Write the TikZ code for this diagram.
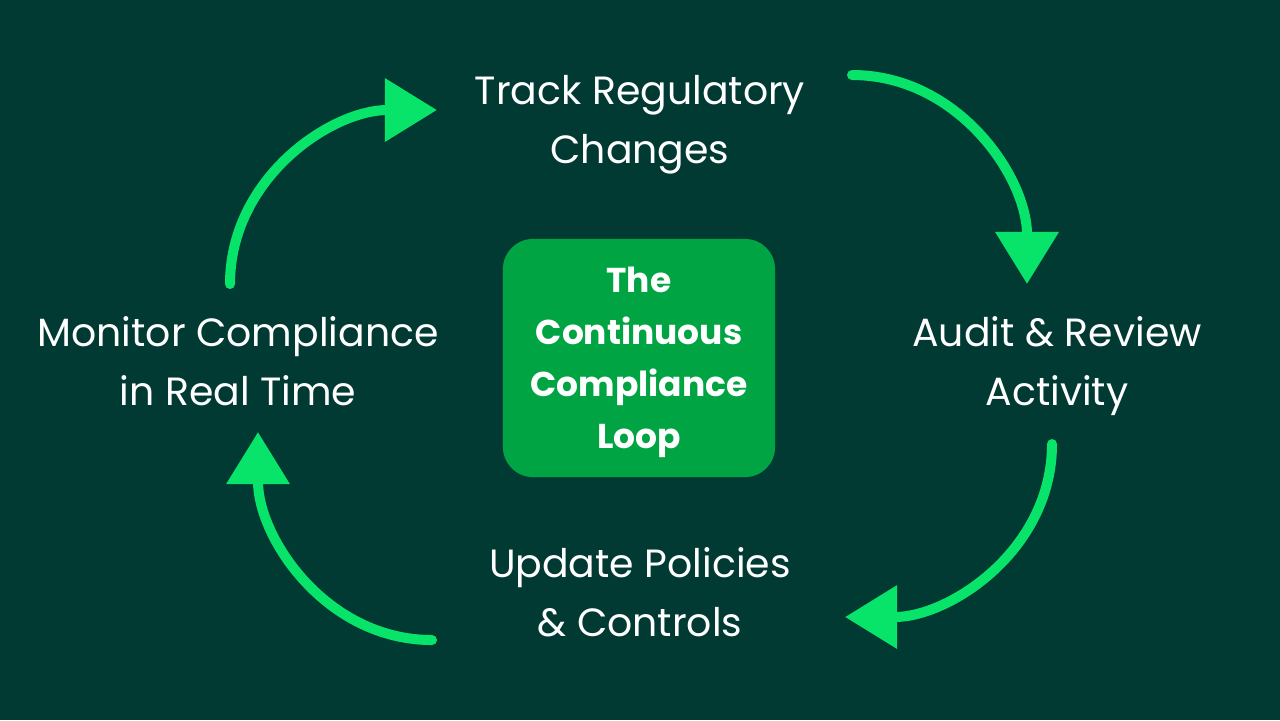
\documentclass[tikz,border=0pt]{standalone}
\usepackage{fontspec}
\setmainfont{Poppins}
\usetikzlibrary{positioning, arrows.meta}

\definecolor{bgteal}{HTML}{003A33}
\definecolor{loopgreen}{HTML}{08E46A}
\definecolor{boxgreen}{HTML}{00A443}

\begin{document}
\begin{tikzpicture}[x=0.01cm, y=-0.01cm,
    stage/.style={text=white, align=center, font=\fontsize{11.2}{16.8}\selectfont},
    cycle/.style={line width=0.1cm, loopgreen, line cap=round, -{Triangle[length=0.52cm, width=0.61cm]}}]
    \fill[bgteal] (0,0) rectangle (1280,720);
    \useasboundingbox (0,0) rectangle (1280,720);

    \node[fill=boxgreen, rounded corners=0.3cm, minimum width=2.72cm, minimum height=2.38cm] (loop) at (639,358) {};
    \node[text=white, align=center, font=\bfseries\fontsize{9.8}{14.8}\selectfont] (looptext) at (639,362) {The\\Continuous\\Compliance\\Loop};

    \node[stage] (track) at (640,125) {Track Regulatory\\Changes};
    \node[stage] (audit) at (1057,366) {Audit \& Review\\Activity};
    \node[stage] (update) at (640,592) {Update Policies\\\& Controls};
    \node[stage] (monitor) at (238,361) {Monitor Compliance\\in Real Time};

    \coordinate (a1) at (230,284); \coordinate (b1) at (437,110);
    \coordinate (a2) at (852,75);  \coordinate (b2) at (1027,284);
    \coordinate (a3) at (1052,444); \coordinate (b3) at (845,617);
    \coordinate (a4) at (432,640); \coordinate (b4) at (258,432);

    \draw[cycle] (a1) to[out=90, in=180] (b1);
    \draw[cycle] (a2) to[out=0, in=90] (b2);
    \draw[cycle] (a3) to[out=-90, in=0] (b3);
    \draw[cycle] (a4) to[out=180, in=-90] (b4);
\end{tikzpicture}
\end{document}
